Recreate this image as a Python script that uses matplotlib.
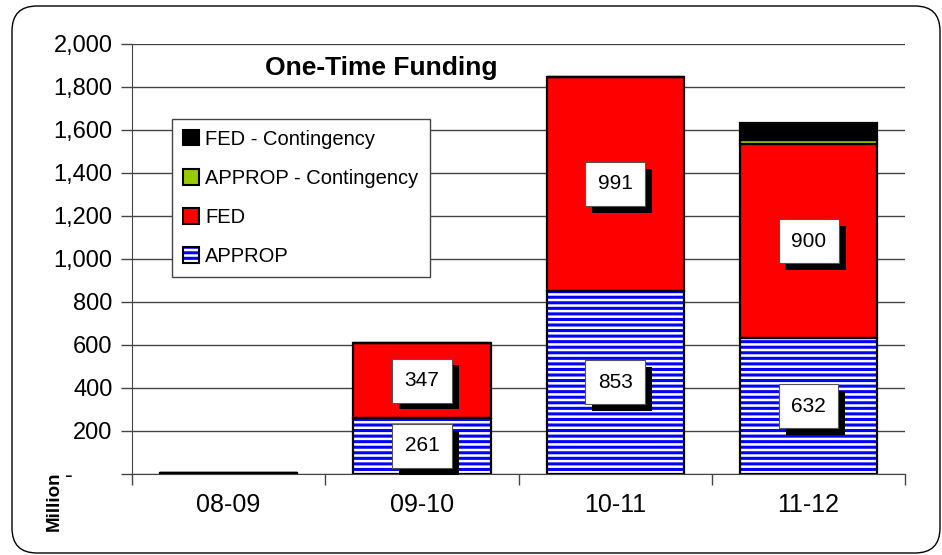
import matplotlib
matplotlib.use("Agg")
import matplotlib.pyplot as plt
import matplotlib.ticker as tkr
import matplotlib.patheffects as pe
from matplotlib.patches import Patch, FancyBboxPatch
from matplotlib.legend_handler import HandlerTuple
import numpy as np

years = ["08-09", "09-10", "10-11", "11-12"]
approp = [5, 261, 853, 632]
fed = [0, 347, 991, 900]
approp_cont = [0, 0, 0, 20]
fed_cont = [0, 0, 0, 80]
label_approp = ["", "261", "853", "632"]
label_fed = ["", "347", "991", "900"]
y_ticks = [0, 200, 400, 600, 800, 1000, 1200, 1400, 1600, 1800, 2000]

plt.rcParams['font.family'] = ['Liberation Sans', 'DejaVu Sans']
plt.rcParams['hatch.linewidth'] = 2.2


def thousands(x, pos):
    if x == 0:
        return "-      "
    return "{:,.0f}".format(x)


if __name__ == "__main__":
    fig = plt.figure(figsize=(9.42, 5.55), dpi=100)
    ax = fig.add_axes([0.140, 0.146, 0.821, 0.775])

    x = np.arange(len(years))
    w = 0.71
    a = np.array(approp)
    f = np.array(fed)
    ac = np.array(approp_cont)
    fc = np.array(fed_cont)

    # APPROP: white with blue horizontal stripes, outlined in black
    ax.bar(x, a, w, color="white", edgecolor="#0000FF", hatch="---", linewidth=0, zorder=3)
    ax.bar(x, a, w, fill=False, edgecolor="black", linewidth=1.6, zorder=4)
    ax.bar(x, f, w, bottom=a, color="#FF0000", edgecolor="black", linewidth=1.6, zorder=3)
    ax.bar(x, ac, w, bottom=a + f, color="#99CC00", edgecolor="black", linewidth=1.6, zorder=3)
    ax.bar(x, fc, w, bottom=a + f + ac, color="black", edgecolor="black", linewidth=1.6, zorder=3)

    # value boxes with drop shadow
    for i in range(len(years)):
        for txt, yv in [(label_approp[i], a[i] / 2), (label_fed[i], a[i] + f[i] / 2)]:
            if not txt:
                continue
            t = ax.text(x[i], yv, txt, ha="center", va="center", fontsize=15,
                        color="black", zorder=6,
                        bbox=dict(boxstyle="square,pad=0.6", fc="white", ec="#555555", lw=0.8))
            t.get_bbox_patch().set_path_effects([
                pe.SimplePatchShadow(offset=(5, -5), shadow_rgbFace="black", alpha=1.0),
                pe.Normal()])

    ax.set_xlim(-0.5, 3.5)
    ax.set_ylim(0, 2000)
    ax.set_yticks(y_ticks)
    ax.yaxis.set_major_formatter(tkr.FuncFormatter(thousands))
    ax.set_xticks(x)
    ax.set_xticklabels(years)
    ax.set_xticks(np.arange(-0.5, 4.0, 1.0), minor=True)
    ax.tick_params(axis="x", which="major", length=0, pad=14, labelsize=18)
    ax.tick_params(axis="x", which="minor", length=8, width=1, color="#444444", direction="out")
    ax.tick_params(axis="y", length=8, width=1, color="#444444", labelsize=17, pad=6)
    ax.grid(axis="y", color="#444444", linewidth=1, zorder=0)
    ax.set_axisbelow(True)
    for s in ["top", "right"]:
        ax.spines[s].set_visible(False)
    ax.spines["left"].set_color("#444444")
    ax.spines["bottom"].set_color("#444444")

    ax.text(0.322, 0.945, "One-Time Funding", transform=ax.transAxes, ha="center",
            va="center", fontsize=19, fontweight="bold")
    fig.text(0.058, 0.097, "Million", rotation=90, ha="center", va="center",
             fontsize=13.5, fontweight="bold")

    h_fc = Patch(facecolor="black", edgecolor="black", linewidth=1.5)
    h_ac = Patch(facecolor="#99CC00", edgecolor="black", linewidth=1.5)
    h_f = Patch(facecolor="#FF0000", edgecolor="black", linewidth=1.5)
    h_a1 = Patch(facecolor="white", edgecolor="#0000FF", hatch="---", linewidth=0)
    h_a2 = Patch(fill=False, edgecolor="black", linewidth=1.5)
    leg = ax.legend([h_fc, h_ac, h_f, (h_a1, h_a2)],
                    ["FED - Contingency", "APPROP - Contingency", "FED", "APPROP"],
                    handler_map={tuple: HandlerTuple(ndivide=1, pad=0)},
                    loc="upper left", bbox_to_anchor=(0.052, 0.826), borderaxespad=0,
                    fontsize=14.5, frameon=True, fancybox=False, edgecolor="#444444",
                    framealpha=1, handlelength=0.8, handleheight=0.8, handletextpad=0.3,
                    labelspacing=1.0, borderpad=0.55)
    leg.get_frame().set_linewidth(1)
    leg.set_zorder(7)

    border = FancyBboxPatch((12, 2), 928, 547, boxstyle="round,pad=0,rounding_size=25",
                            transform=None, fill=False, edgecolor="black", linewidth=1)
    fig.add_artist(border)

    fig.savefig("out.png", dpi=100)
